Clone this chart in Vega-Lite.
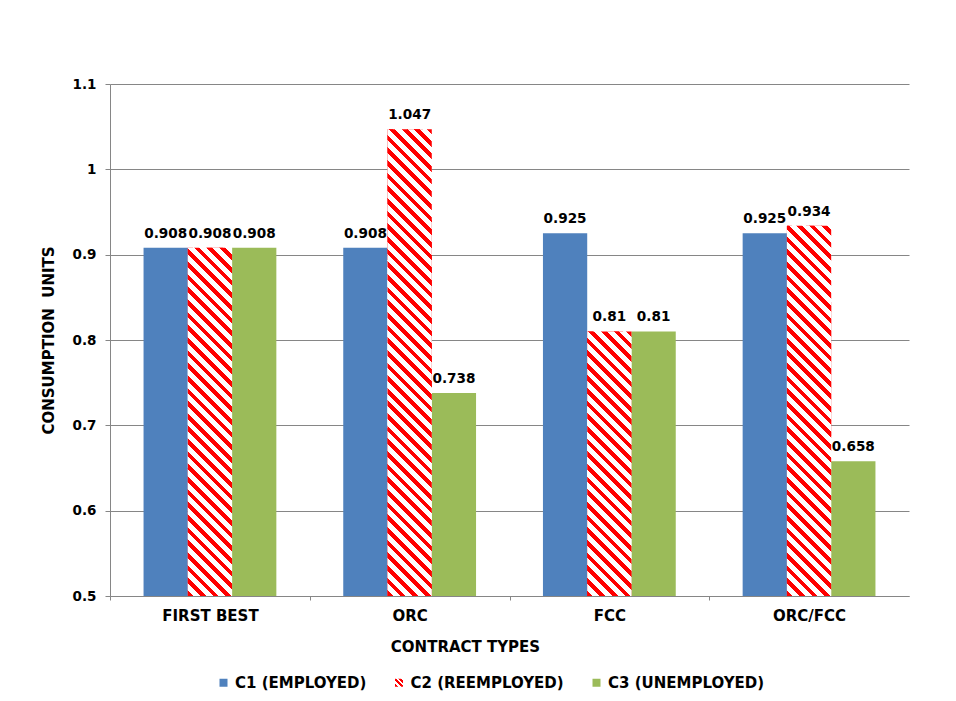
{
  "$schema": "https://vega.github.io/schema/vega-lite/v6.json",
  "width": 799,
  "height": 512,
  "autosize": {"type": "none"},
  "padding": {"left": 110, "top": 84, "right": 47, "bottom": 105},
  "background": "white",
  "params": [
    {"name": "legendStripes", "value": [
      {"offset": 0, "color": "#FF0000"}, {"offset": 0.18, "color": "#FF0000"}, {"offset": 0.18, "color": "#FFFFFF"}, {"offset": 0.36, "color": "#FFFFFF"},
      {"offset": 0.36, "color": "#FF0000"}, {"offset": 0.56, "color": "#FF0000"}, {"offset": 0.56, "color": "#FFFFFF"}, {"offset": 0.72, "color": "#FFFFFF"},
      {"offset": 0.72, "color": "#FF0000"}, {"offset": 0.9, "color": "#FF0000"}, {"offset": 0.9, "color": "#FFFFFF"}, {"offset": 1, "color": "#FFFFFF"}
    ]},
    {"name": "stripes", "value": [
      {"offset":0,"color":"#FF0000"},{"offset":0.00918,"color":"#FF0000"},{"offset":0.00918,"color":"#FFFFFF"},{"offset":0.02041,"color":"#FFFFFF"},
      {"offset":0.02041,"color":"#FF0000"},{"offset":0.02959,"color":"#FF0000"},{"offset":0.02959,"color":"#FFFFFF"},{"offset":0.04082,"color":"#FFFFFF"},
      {"offset":0.04082,"color":"#FF0000"},{"offset":0.05000,"color":"#FF0000"},{"offset":0.05000,"color":"#FFFFFF"},{"offset":0.06122,"color":"#FFFFFF"},
      {"offset":0.06122,"color":"#FF0000"},{"offset":0.07041,"color":"#FF0000"},{"offset":0.07041,"color":"#FFFFFF"},{"offset":0.08163,"color":"#FFFFFF"},
      {"offset":0.08163,"color":"#FF0000"},{"offset":0.09082,"color":"#FF0000"},{"offset":0.09082,"color":"#FFFFFF"},{"offset":0.10204,"color":"#FFFFFF"},
      {"offset":0.10204,"color":"#FF0000"},{"offset":0.11122,"color":"#FF0000"},{"offset":0.11122,"color":"#FFFFFF"},{"offset":0.12245,"color":"#FFFFFF"},
      {"offset":0.12245,"color":"#FF0000"},{"offset":0.13163,"color":"#FF0000"},{"offset":0.13163,"color":"#FFFFFF"},{"offset":0.14286,"color":"#FFFFFF"},
      {"offset":0.14286,"color":"#FF0000"},{"offset":0.15204,"color":"#FF0000"},{"offset":0.15204,"color":"#FFFFFF"},{"offset":0.16327,"color":"#FFFFFF"},
      {"offset":0.16327,"color":"#FF0000"},{"offset":0.17245,"color":"#FF0000"},{"offset":0.17245,"color":"#FFFFFF"},{"offset":0.18367,"color":"#FFFFFF"},
      {"offset":0.18367,"color":"#FF0000"},{"offset":0.19286,"color":"#FF0000"},{"offset":0.19286,"color":"#FFFFFF"},{"offset":0.20408,"color":"#FFFFFF"},
      {"offset":0.20408,"color":"#FF0000"},{"offset":0.21327,"color":"#FF0000"},{"offset":0.21327,"color":"#FFFFFF"},{"offset":0.22449,"color":"#FFFFFF"},
      {"offset":0.22449,"color":"#FF0000"},{"offset":0.23367,"color":"#FF0000"},{"offset":0.23367,"color":"#FFFFFF"},{"offset":0.24490,"color":"#FFFFFF"},
      {"offset":0.24490,"color":"#FF0000"},{"offset":0.25408,"color":"#FF0000"},{"offset":0.25408,"color":"#FFFFFF"},{"offset":0.26531,"color":"#FFFFFF"},
      {"offset":0.26531,"color":"#FF0000"},{"offset":0.27449,"color":"#FF0000"},{"offset":0.27449,"color":"#FFFFFF"},{"offset":0.28571,"color":"#FFFFFF"},
      {"offset":0.28571,"color":"#FF0000"},{"offset":0.29490,"color":"#FF0000"},{"offset":0.29490,"color":"#FFFFFF"},{"offset":0.30612,"color":"#FFFFFF"},
      {"offset":0.30612,"color":"#FF0000"},{"offset":0.31531,"color":"#FF0000"},{"offset":0.31531,"color":"#FFFFFF"},{"offset":0.32653,"color":"#FFFFFF"},
      {"offset":0.32653,"color":"#FF0000"},{"offset":0.33571,"color":"#FF0000"},{"offset":0.33571,"color":"#FFFFFF"},{"offset":0.34694,"color":"#FFFFFF"},
      {"offset":0.34694,"color":"#FF0000"},{"offset":0.35612,"color":"#FF0000"},{"offset":0.35612,"color":"#FFFFFF"},{"offset":0.36735,"color":"#FFFFFF"},
      {"offset":0.36735,"color":"#FF0000"},{"offset":0.37653,"color":"#FF0000"},{"offset":0.37653,"color":"#FFFFFF"},{"offset":0.38776,"color":"#FFFFFF"},
      {"offset":0.38776,"color":"#FF0000"},{"offset":0.39694,"color":"#FF0000"},{"offset":0.39694,"color":"#FFFFFF"},{"offset":0.40816,"color":"#FFFFFF"},
      {"offset":0.40816,"color":"#FF0000"},{"offset":0.41735,"color":"#FF0000"},{"offset":0.41735,"color":"#FFFFFF"},{"offset":0.42857,"color":"#FFFFFF"},
      {"offset":0.42857,"color":"#FF0000"},{"offset":0.43776,"color":"#FF0000"},{"offset":0.43776,"color":"#FFFFFF"},{"offset":0.44898,"color":"#FFFFFF"},
      {"offset":0.44898,"color":"#FF0000"},{"offset":0.45816,"color":"#FF0000"},{"offset":0.45816,"color":"#FFFFFF"},{"offset":0.46939,"color":"#FFFFFF"},
      {"offset":0.46939,"color":"#FF0000"},{"offset":0.47857,"color":"#FF0000"},{"offset":0.47857,"color":"#FFFFFF"},{"offset":0.48980,"color":"#FFFFFF"},
      {"offset":0.48980,"color":"#FF0000"},{"offset":0.49898,"color":"#FF0000"},{"offset":0.49898,"color":"#FFFFFF"},{"offset":0.51020,"color":"#FFFFFF"},
      {"offset":0.51020,"color":"#FF0000"},{"offset":0.51939,"color":"#FF0000"},{"offset":0.51939,"color":"#FFFFFF"},{"offset":0.53061,"color":"#FFFFFF"},
      {"offset":0.53061,"color":"#FF0000"},{"offset":0.53980,"color":"#FF0000"},{"offset":0.53980,"color":"#FFFFFF"},{"offset":0.55102,"color":"#FFFFFF"},
      {"offset":0.55102,"color":"#FF0000"},{"offset":0.56020,"color":"#FF0000"},{"offset":0.56020,"color":"#FFFFFF"},{"offset":0.57143,"color":"#FFFFFF"},
      {"offset":0.57143,"color":"#FF0000"},{"offset":0.58061,"color":"#FF0000"},{"offset":0.58061,"color":"#FFFFFF"},{"offset":0.59184,"color":"#FFFFFF"},
      {"offset":0.59184,"color":"#FF0000"},{"offset":0.60102,"color":"#FF0000"},{"offset":0.60102,"color":"#FFFFFF"},{"offset":0.61224,"color":"#FFFFFF"},
      {"offset":0.61224,"color":"#FF0000"},{"offset":0.62143,"color":"#FF0000"},{"offset":0.62143,"color":"#FFFFFF"},{"offset":0.63265,"color":"#FFFFFF"},
      {"offset":0.63265,"color":"#FF0000"},{"offset":0.64184,"color":"#FF0000"},{"offset":0.64184,"color":"#FFFFFF"},{"offset":0.65306,"color":"#FFFFFF"},
      {"offset":0.65306,"color":"#FF0000"},{"offset":0.66224,"color":"#FF0000"},{"offset":0.66224,"color":"#FFFFFF"},{"offset":0.67347,"color":"#FFFFFF"},
      {"offset":0.67347,"color":"#FF0000"},{"offset":0.68265,"color":"#FF0000"},{"offset":0.68265,"color":"#FFFFFF"},{"offset":0.69388,"color":"#FFFFFF"},
      {"offset":0.69388,"color":"#FF0000"},{"offset":0.70306,"color":"#FF0000"},{"offset":0.70306,"color":"#FFFFFF"},{"offset":0.71429,"color":"#FFFFFF"},
      {"offset":0.71429,"color":"#FF0000"},{"offset":0.72347,"color":"#FF0000"},{"offset":0.72347,"color":"#FFFFFF"},{"offset":0.73469,"color":"#FFFFFF"},
      {"offset":0.73469,"color":"#FF0000"},{"offset":0.74388,"color":"#FF0000"},{"offset":0.74388,"color":"#FFFFFF"},{"offset":0.75510,"color":"#FFFFFF"},
      {"offset":0.75510,"color":"#FF0000"},{"offset":0.76429,"color":"#FF0000"},{"offset":0.76429,"color":"#FFFFFF"},{"offset":0.77551,"color":"#FFFFFF"},
      {"offset":0.77551,"color":"#FF0000"},{"offset":0.78469,"color":"#FF0000"},{"offset":0.78469,"color":"#FFFFFF"},{"offset":0.79592,"color":"#FFFFFF"},
      {"offset":0.79592,"color":"#FF0000"},{"offset":0.80510,"color":"#FF0000"},{"offset":0.80510,"color":"#FFFFFF"},{"offset":0.81633,"color":"#FFFFFF"},
      {"offset":0.81633,"color":"#FF0000"},{"offset":0.82551,"color":"#FF0000"},{"offset":0.82551,"color":"#FFFFFF"},{"offset":0.83673,"color":"#FFFFFF"},
      {"offset":0.83673,"color":"#FF0000"},{"offset":0.84592,"color":"#FF0000"},{"offset":0.84592,"color":"#FFFFFF"},{"offset":0.85714,"color":"#FFFFFF"},
      {"offset":0.85714,"color":"#FF0000"},{"offset":0.86633,"color":"#FF0000"},{"offset":0.86633,"color":"#FFFFFF"},{"offset":0.87755,"color":"#FFFFFF"},
      {"offset":0.87755,"color":"#FF0000"},{"offset":0.88673,"color":"#FF0000"},{"offset":0.88673,"color":"#FFFFFF"},{"offset":0.89796,"color":"#FFFFFF"},
      {"offset":0.89796,"color":"#FF0000"},{"offset":0.90714,"color":"#FF0000"},{"offset":0.90714,"color":"#FFFFFF"},{"offset":0.91837,"color":"#FFFFFF"},
      {"offset":0.91837,"color":"#FF0000"},{"offset":0.92755,"color":"#FF0000"},{"offset":0.92755,"color":"#FFFFFF"},{"offset":0.93878,"color":"#FFFFFF"},
      {"offset":0.93878,"color":"#FF0000"},{"offset":0.94796,"color":"#FF0000"},{"offset":0.94796,"color":"#FFFFFF"},{"offset":0.95918,"color":"#FFFFFF"},
      {"offset":0.95918,"color":"#FF0000"},{"offset":0.96837,"color":"#FF0000"},{"offset":0.96837,"color":"#FFFFFF"},{"offset":0.97959,"color":"#FFFFFF"},
      {"offset":0.97959,"color":"#FF0000"},{"offset":0.98878,"color":"#FF0000"},{"offset":0.98878,"color":"#FFFFFF"},{"offset":1,"color":"#FFFFFF"}
    ]}
  ],
  "data": {"values": [
    {"type": "FIRST BEST", "series": "C1 (EMPLOYED)", "value": 0.908},
    {"type": "FIRST BEST", "series": "C2 (REEMPLOYED)", "value": 0.908},
    {"type": "FIRST BEST", "series": "C3 (UNEMPLOYED)", "value": 0.908},
    {"type": "ORC", "series": "C1 (EMPLOYED)", "value": 0.908},
    {"type": "ORC", "series": "C2 (REEMPLOYED)", "value": 1.047},
    {"type": "ORC", "series": "C3 (UNEMPLOYED)", "value": 0.738},
    {"type": "FCC", "series": "C1 (EMPLOYED)", "value": 0.925},
    {"type": "FCC", "series": "C2 (REEMPLOYED)", "value": 0.81},
    {"type": "FCC", "series": "C3 (UNEMPLOYED)", "value": 0.81},
    {"type": "ORC/FCC", "series": "C1 (EMPLOYED)", "value": 0.925},
    {"type": "ORC/FCC", "series": "C2 (REEMPLOYED)", "value": 0.934},
    {"type": "ORC/FCC", "series": "C3 (UNEMPLOYED)", "value": 0.658}
  ]},
  "encoding": {
    "x": {
      "field": "type", "type": "nominal",
      "sort": ["FIRST BEST", "ORC", "FCC", "ORC/FCC"],
      "scale": {"paddingInner": 0.335, "paddingOuter": 0.168},
      "axis": {
        "title": "CONTRACT TYPES", "labelAngle": 0, "tickSize": 4, "tickOffset": -99.85, "labelOffset": 99.85,
        "labelPadding": 8, "labelFontSize": 15, "titleFontSize": 15, "titlePadding": 16, "titleX": 355
      }
    },
    "xOffset": {
      "field": "series", "type": "nominal",
      "sort": ["C1 (EMPLOYED)", "C2 (REEMPLOYED)", "C3 (UNEMPLOYED)"],
      "scale": {"paddingInner": 0, "paddingOuter": 0}
    },
    "y": {
      "field": "value", "type": "quantitative",
      "scale": {"domain": [0.5, 1.1], "zero": false, "nice": false},
      "axis": {
        "title": "CONSUMPTION\u00a0 UNITS", "values": [0.5, 0.6, 0.7, 0.8, 0.9, 1.0, 1.1],
        "format": ".1~f", "grid": true, "tickSize": 5, "labelPadding": 9,
        "labelFontSize": 13.5, "titleFontSize": 15, "titlePadding": 16
      }
    }
  },
  "layer": [
    {
      "mark": {"type": "bar"},
      "encoding": {
        "y2": {"datum": 0.5},
        "color": {
          "field": "series", "type": "nominal",
          "scale": {
            "domain": ["C1 (EMPLOYED)", "C2 (REEMPLOYED)", "C3 (UNEMPLOYED)"],
            "range": [
              "#4F81BD",
              {"expr": "{gradient: 'linear', x1: 0, y1: 1, x2: 1, y2: 0, stops: legendStripes}"},
              "#9BBB59"
            ]
          },
          "legend": {
            "title": null, "orient": "none", "direction": "horizontal",
            "legendX": 106, "legendY": 591, "symbolType": "square", "symbolSize": 64,
            "labelFontSize": 15, "labelOffset": 4, "columnPadding": 24.5,
            "symbolStrokeWidth": 0, "symbolOpacity": 1
          }
        }
      }
    },
    {
      "transform": [{"filter": "datum.series === 'C2 (REEMPLOYED)'"}],
      "mark": {
        "type": "bar",
        "fill": {"expr": "{gradient: 'linear', x1: 0, y1: 1, x2: 620*bandwidth('xOffset')/(pow(bandwidth('xOffset'),2)+pow(scale('y',0.5)-scale('y',datum.value),2)), y2: 1-620*(scale('y',0.5)-scale('y',datum.value))/(pow(bandwidth('xOffset'),2)+pow(scale('y',0.5)-scale('y',datum.value),2)), stops: stripes}"}
      },
      "encoding": {"y2": {"datum": 0.5}}
    },
    {
      "mark": {"type": "text", "baseline": "alphabetic", "dy": -10, "fontSize": 13.6, "fontWeight": "bold", "font": "DejaVu Sans", "color": "#000000"},
      "encoding": {"text": {"field": "value", "type": "quantitative", "format": ".3~f"}}
    }
  ],
  "config": {
    "view": {"stroke": null},
    "font": "DejaVu Sans",
    "axis": {
      "domainColor": "#868686", "gridColor": "#868686", "tickColor": "#868686",
      "labelFont": "DejaVu Sans", "labelFontWeight": "bold", "labelColor": "#000000",
      "titleFont": "DejaVu Sans", "titleFontWeight": "bold", "titleColor": "#000000"
    },
    "legend": {"labelFont": "DejaVu Sans", "labelFontWeight": "bold", "labelColor": "#000000"}
  }
}
